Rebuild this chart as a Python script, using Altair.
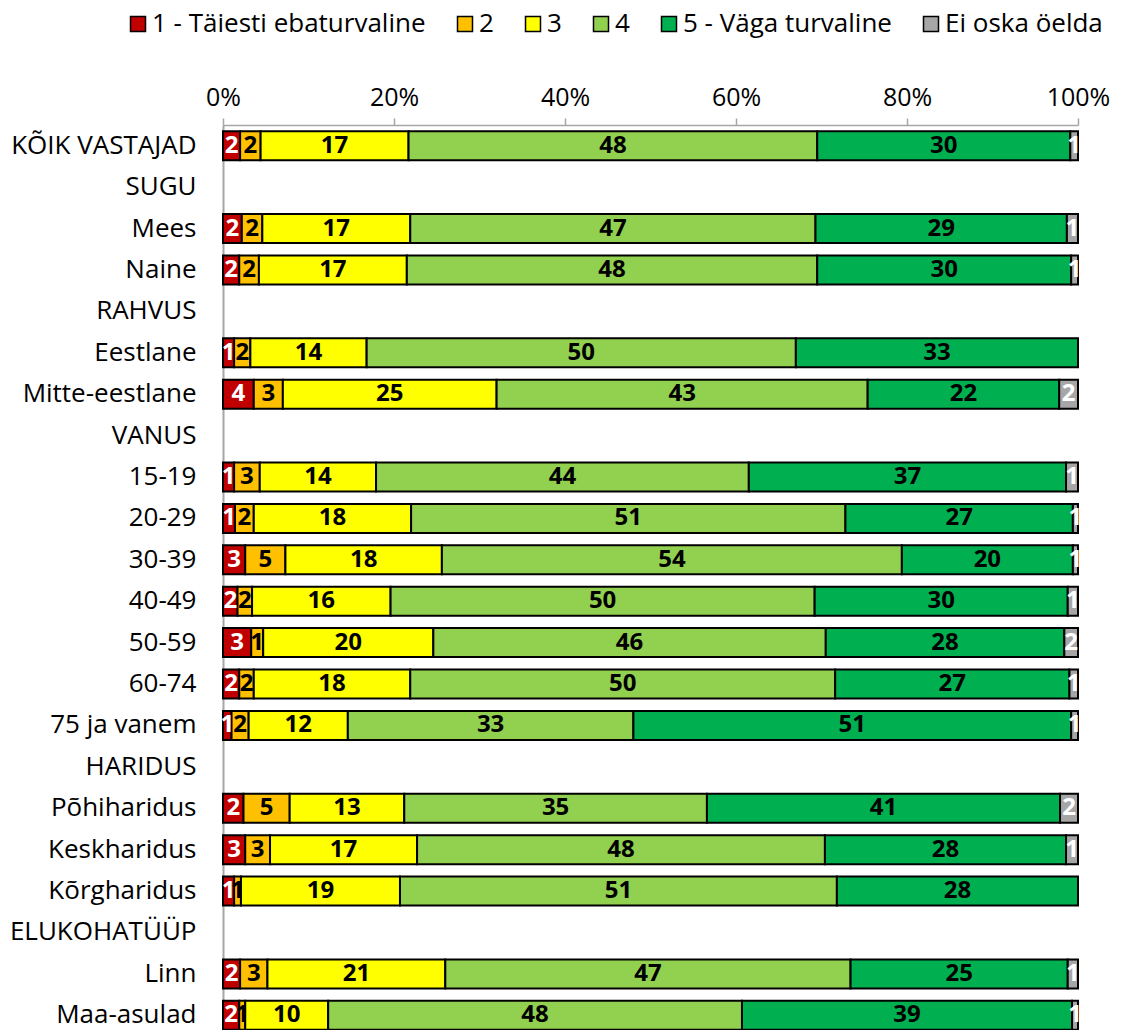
import altair as alt
import pandas as pd

rows = ["KÕIK VASTAJAD", "SUGU", "Mees", "Naine", "RAHVUS", "Eestlane", "Mitte-eestlane",
        "VANUS", "15-19", "20-29", "30-39", "40-49", "50-59", "60-74", "75 ja vanem",
        "HARIDUS", "Põhiharidus", "Keskharidus", "Kõrgharidus", "ELUKOHATÜÜP", "Linn", "Maa-asulad"]

series = ["1 - Täiesti ebaturvaline", "2", "3", "4", "5 - Väga turvaline", "Ei oska öelda"]
colors = ["#C00000", "#FFC000", "#FFFF00", "#92D050", "#00B050", "#A6A6A6"]

s1 = [2.0, None, 2.2, 1.9, None, 1.3, 3.6, None, 1.3, 1.4, 2.6, 1.7, 3.3, 1.9, 1.0, None, 2.4, 2.6, 1.3, None, 2.0, 1.9]
s2 = [2.4, None, 2.4, 2.3, None, 1.9, 3.4, None, 3.0, 2.2, 4.7, 1.7, 1.4, 1.7, 2.0, None, 5.4, 2.9, 0.8, None, 3.2, 0.7]
s3 = [17.3, None, 17.3, 17.3, None, 13.6, 25.0, None, 13.6, 18.4, 18.3, 16.2, 19.9, 18.3, 11.6, None, 13.4, 17.2, 18.6, None, 20.8, 9.7]
s4 = [47.8, None, 47.4, 48.0, None, 50.2, 43.4, None, 43.6, 50.8, 53.8, 49.6, 45.9, 49.7, 33.4, None, 35.4, 47.7, 51.1, None, 47.4, 48.4]
s5 = [29.6, None, 29.4, 29.7, None, 33.0, 22.4, None, 37.1, 26.6, 20.0, 29.6, 27.9, 27.4, 51.2, None, 41.3, 28.2, 28.2, None, 25.4, 38.6]
s6 = [0.9, None, 1.3, 0.8, None, None, 2.2, None, 1.4, 0.6, 0.6, 1.2, 1.6, 1.0, 0.8, None, 2.1, 1.4, None, None, 1.2, 0.7]

recs = []
for k, (name, vals) in enumerate(zip(series, [s1, s2, s3, s4, s5, s6])):
    for r, v in zip(rows, vals):
        if v is not None:
            recs.append({"row": r, "k": k, "series": name, "value": v})
df = pd.DataFrame(recs)

FONT = "Open Sans"

base = alt.Chart(df).transform_stack(
    stack="value", groupby=["row"], sort=[alt.SortField("k", order="ascending")],
    as_=["x0", "x1"], offset="normalize"
).transform_calculate(mid="(datum.x0 + datum.x1) / 2")

yenc = alt.Y("row:N", sort=rows, scale=alt.Scale(domain=rows, paddingInner=0.30, paddingOuter=0.15),
             axis=alt.Axis(title=None, ticks=False, grid=False, domainColor="#A6A6A6", domainWidth=2,
                           labelPadding=27, labelFontSize=26, labelFont=FONT, labelColor="#000",
                           labelLimit=400))

bars = base.mark_bar(stroke="#000", strokeWidth=2).encode(
    x=alt.X("x0:Q", scale=alt.Scale(domain=[0, 1], nice=False),
            axis=alt.Axis(orient="top", format="%", values=[0, 0.2, 0.4, 0.6, 0.8, 1.0], grid=False,
                          domainColor="#A6A6A6", domainWidth=1.5, tickColor="#A6A6A6", tickSize=7,
                          tickWidth=1.5, labelFontSize=25, labelFont=FONT, labelColor="#000",
                          labelPadding=8, labelFlush=False, title=None)),
    x2="x1:Q",
    y=yenc,
    color=alt.Color("series:N", sort=series, scale=alt.Scale(domain=series, range=colors),
                    legend=alt.Legend(title=None, orient="none", direction="horizontal",
                                      legendX=-98, legendY=-114, symbolType="square",
                                      symbolSize=225, symbolStrokeColor="#000",
                                      symbolStrokeWidth=1.5, labelFontSize=26, labelFont=FONT,
                                      labelColor="#000", columnPadding=26, labelOffset=1,
                                      labelLimit=400)),
)

labels = base.mark_text(font=FONT, fontWeight="bold", fontSize=24, baseline="middle", align="center").encode(
    x=alt.X("mid:Q"),
    y=alt.Y("row:N", sort=rows),
    text=alt.Text("value:Q", format=".0f"),
    color=alt.condition("datum.k == 0 || datum.k == 5", alt.value("#FFFFFF"), alt.value("#000000")),
)

chart = alt.layer(bars, labels).properties(
    width=855, height=911,
    autosize=alt.AutoSizeParams(type="none"),
    padding={"left": 215, "top": 117, "right": 35, "bottom": 0},
).configure_view(stroke=None)

chart.save("out.html", embed_options={"renderer": "svg", "actions": False})
